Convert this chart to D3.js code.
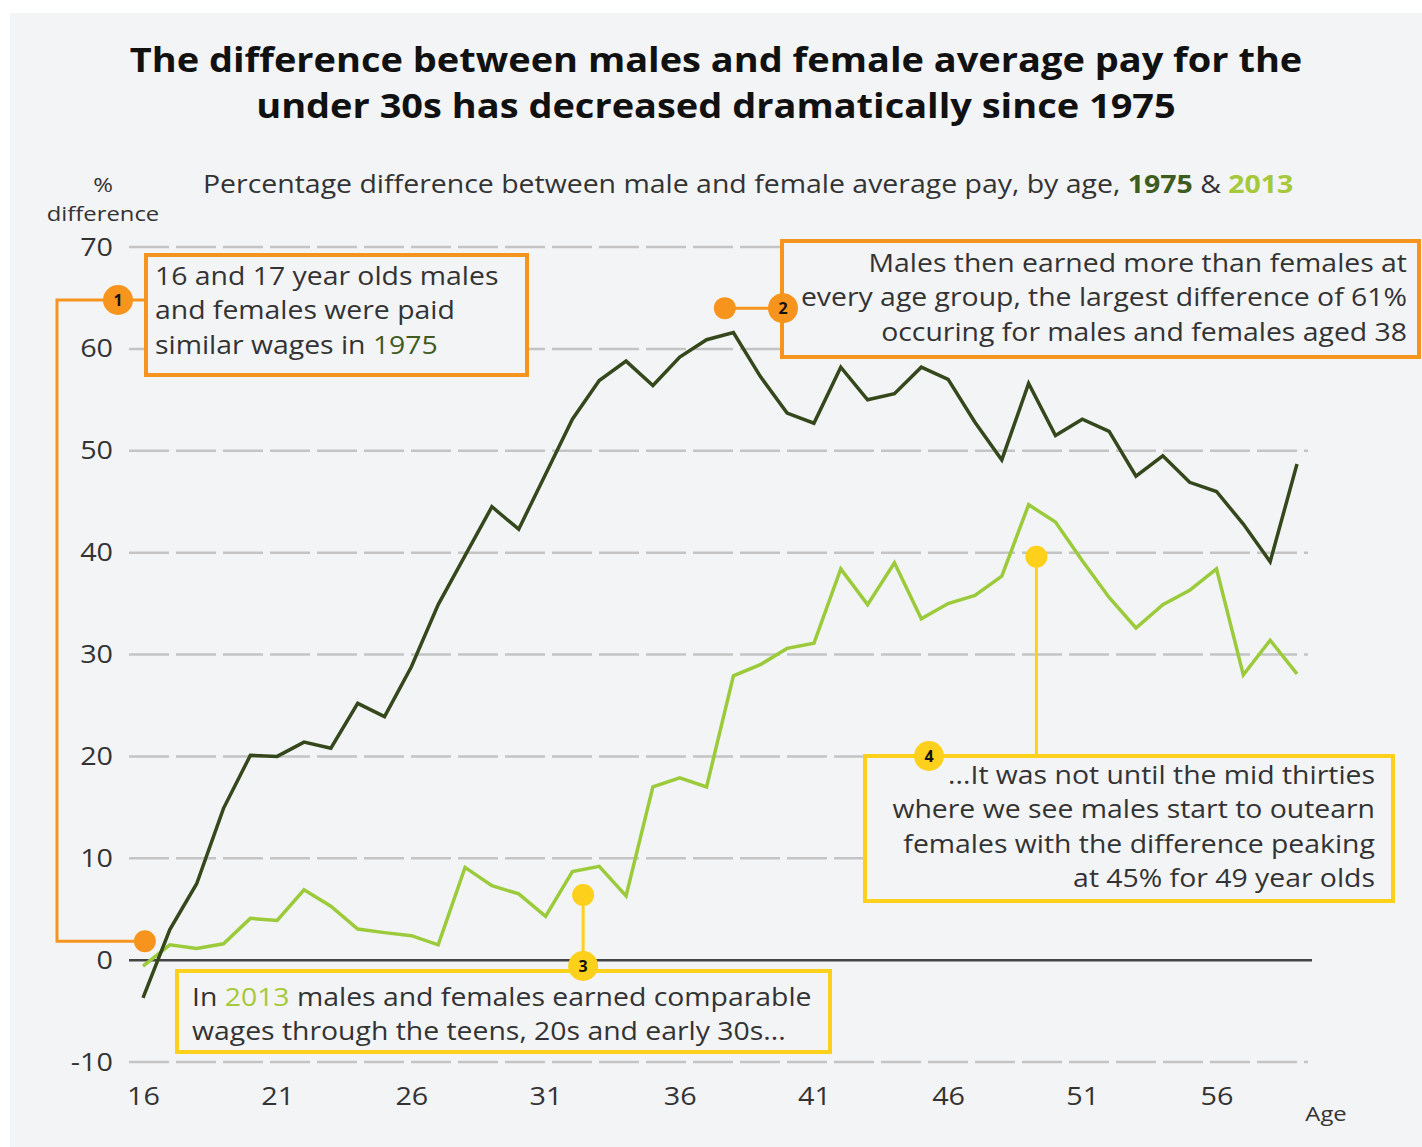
<!DOCTYPE html>
<html>
<head>
<meta charset='utf-8'>
<title>Gender pay gap by age, 1975 & 2013</title>
<script src='https://cdn.jsdelivr.net/npm/d3@7/dist/d3.min.js'></script>
<style>
  body {margin:0; background:#fff;}
  svg {display:block; font-family:'Open Sans', sans-serif;}
  .tick text {font-family:'Open Sans', sans-serif; font-size:25px; fill:#333;}
</style>
</head>
<body>
<svg id='chart'></svg>
<script>
// ages on the x axis
const ages=[16,17,18,19,20,21,22,23,24,25,26,27,28,29,30,31,32,33,34,35,36,37,
            38,39,40,41,42,43,44,45,46,47,48,49,50,51,52,53,54,55,56,57,58,59];
// % difference male vs female average pay
const pay1975=[-3.7,3.0,7.5,14.9,20.1,20.0,21.4,20.8,25.2,23.9,28.8,34.9,39.7,44.5,42.3,
               47.7,53.1,56.9,58.8,56.4,59.2,60.9,61.6,57.3,53.7,52.7,58.2,55.0,55.6,58.2,
               57.0,52.8,49.1,56.6,51.5,53.1,51.9,47.5,49.5,46.9,46.0,42.8,39.1,48.7];
const pay2013=[-0.6,1.5,1.15,1.6,4.1,3.9,6.9,5.3,3.05,2.7,2.4,1.5,9.1,7.3,6.5,
               4.3,8.7,9.2,6.3,17.0,17.9,17.0,27.9,29.0,30.6,31.1,38.4,34.9,39.0,33.5,
               35.0,35.8,37.7,44.7,43.0,39.2,35.6,32.6,34.9,36.3,38.4,28.0,31.4,28.1];
const yTicks=[-10,0,10,20,30,40,50,60,70];
const xTicks=[16,21,26,31,36,41,46,51,56];

const W=1422, H=1147;
const c1975='#35481c', c2013='#9bcb3b', orange='#f7941d', yellow='#fdd01c';

const svg=d3.select('#chart').attr('width',W).attr('height',H);
svg.append('rect').attr('x',10).attr('y',13).attr('width',W-10).attr('height',H-13)
   .attr('fill','#f3f4f6');

const x=d3.scaleLinear().domain([16,59]).range([143,1297]),
      y=d3.scaleLinear().domain([-10,70]).range([1062,247]);
const gx0=129, gx1=1308;

// the source type is set a little wider than Open Sans, so stretch text around its anchor
function stretch(sel,s){
  sel.each(function(){
    const b=this.getBBox(), a=getComputedStyle(this).textAnchor;
    const ax=a==='end'?b.x+b.width:a==='middle'?b.x+b.width/2:b.x;
    d3.select(this).attr('transform',`translate(${ax},0) scale(${s},1) translate(${-ax},0)`);
  });
}

// title
const title=svg.append('text').attr('x',716).attr('y',72).attr('text-anchor','middle')
   .attr('font-size',34).attr('font-weight',700).attr('fill','#111');
title.selectAll('tspan')
   .data(['The difference between males and female average pay for the',
          'under 30s has decreased dramatically since 1975'])
   .join('tspan').attr('x',716).attr('dy',(d,i)=>i?46:0).text(d=>d);
stretch(title,1.117);

// subtitle
const sub=svg.append('text').attr('x',203).attr('y',193)
   .attr('font-size',25.5).attr('fill','#333');
sub.append('tspan').text('Percentage difference between male and female average pay, by age, ');
sub.append('tspan').attr('font-weight',700).attr('fill','#3e5c1d').text('1975');
sub.append('tspan').text(' & ');
sub.append('tspan').attr('font-weight',700).attr('fill','#a5c93a').text('2013');
stretch(sub,1.116);

// axis titles
const small=svg.append('g').attr('font-size',20).attr('fill','#333').attr('text-anchor','middle');
small.append('text').attr('x',103).attr('y',192).text('%');
small.append('text').attr('x',103).attr('y',221).text('difference');
small.append('text').attr('x',1326).attr('y',1121).text('Age');
stretch(small.selectAll('text'),1.19);

// grid
svg.append('g').selectAll('line').data(yTicks.filter(d=>d!==0)).join('line')
   .attr('x1',gx0).attr('x2',gx1).attr('y1',d=>y(d)).attr('y2',d=>y(d))
   .attr('stroke','#c4c4c4').attr('stroke-width',2.5).attr('stroke-dasharray','40,7');
svg.append('line').attr('x1',gx0).attr('x2',gx1+4).attr('y1',y(0)).attr('y2',y(0))
   .attr('stroke','#444').attr('stroke-width',2.5);

// axes
const yAx=svg.append('g').attr('transform',`translate(${gx0},0)`)
   .call(d3.axisLeft(y).tickValues(yTicks).tickSize(0).tickPadding(16).tickFormat(d=>String(d)))
   .call(g=>g.select('.domain').remove());
const xAx=svg.append('g').attr('transform','translate(0,1087)')
   .call(d3.axisBottom(x).tickValues(xTicks).tickSize(0).tickPadding(0).tickFormat(d=>String(d)))
   .call(g=>g.select('.domain').remove());
stretch(yAx.selectAll('text'),1.15);
stretch(xAx.selectAll('text'),1.15);

// lines
const line=d3.line().x((d,i)=>x(ages[i])).y(d=>y(d));
svg.append('path').datum(pay2013).attr('d',line).attr('fill','none')
   .attr('stroke',c2013).attr('stroke-width',3.5);
svg.append('path').datum(pay1975).attr('d',line).attr('fill','none')
   .attr('stroke',c1975).attr('stroke-width',3.5);

// annotations
function box(x0,y0,x1,y1,col){
  svg.append('rect').attr('x',x0).attr('y',y0).attr('width',x1-x0).attr('height',y1-y0)
     .attr('fill','#f3f4f6').attr('stroke',col).attr('stroke-width',4);
}
function lines(lx,ly,anchor,rows){
  const g=svg.append('g').attr('font-size',25).attr('fill','#333').attr('text-anchor',anchor);
  rows.forEach((r,i)=>{
    const t=g.append('text').attr('x',lx).attr('y',ly+i*34.3);
    r.forEach(s=>{
      const sp=t.append('tspan').text(s[0]);
      if(s[1]) sp.attr('fill',s[1]);
    });
  });
  stretch(g.selectAll('text'),1.135);
}
function badge(cx,cy,col,n){
  svg.append('circle').attr('cx',cx).attr('cy',cy).attr('r',15).attr('fill',col);
  svg.append('text').attr('x',cx).attr('y',cy+5.5).attr('text-anchor','middle')
     .attr('font-size',16).attr('font-weight',700).attr('fill','#111').text(n);
}
function dot(cx,cy,col){
  svg.append('circle').attr('cx',cx).attr('cy',cy).attr('r',11).attr('fill',col);
}
function path(pts,col){
  svg.append('path').attr('d',d3.line()(pts)).attr('fill','none')
     .attr('stroke',col).attr('stroke-width',3);
}

// 1
const a1=[x(16.07),y(1.85)];
path([[146,300],[57,300],[57,a1[1]],a1],orange);
dot(a1[0],a1[1],orange);
box(146,255,527,375,orange);
badge(118,300,orange,'1');
lines(155,285,'start',[[['16 and 17 year olds males']],[['and females were paid']],
      [['similar wages in '],['1975','#3e5c1d']]]);

// 2
const a2=[x(37.68),y(64.0)];
path([a2,[783,a2[1]]],orange);
dot(a2[0],a2[1],orange);
box(782,241,1419,357,orange);
lines(1407,272,'end',[[['Males then earned more than females at']],
      [['every age group, the largest difference of 61%']],
      [['occuring for males and females aged 38']]]);
badge(783,a2[1],orange,'2');

// 3
const a3=[x(32.4),y(6.4)];
path([a3,[a3[0],966]],yellow);
dot(a3[0],a3[1],yellow);
box(177,971,830,1052,yellow);
lines(192,1006,'start',[[['In '],['2013','#a5c93a'],[' males and females earned comparable']],
      [['wages through the teens, 20s and early 30s...']]]);
badge(a3[0],966,yellow,'3');

// 4
const a4=[x(49.29),y(39.6)];
path([a4,[a4[0],756]],yellow);
dot(a4[0],a4[1],yellow);
box(865,756,1393,901,yellow);
lines(1375,784,'end',[[['...It was not until the mid thirties']],
      [['where we see males start to outearn']],
      [['females with the difference peaking']],
      [['at 45% for 49 year olds']]]);
badge(929,756,yellow,'4');
</script>
</body>
</html>
